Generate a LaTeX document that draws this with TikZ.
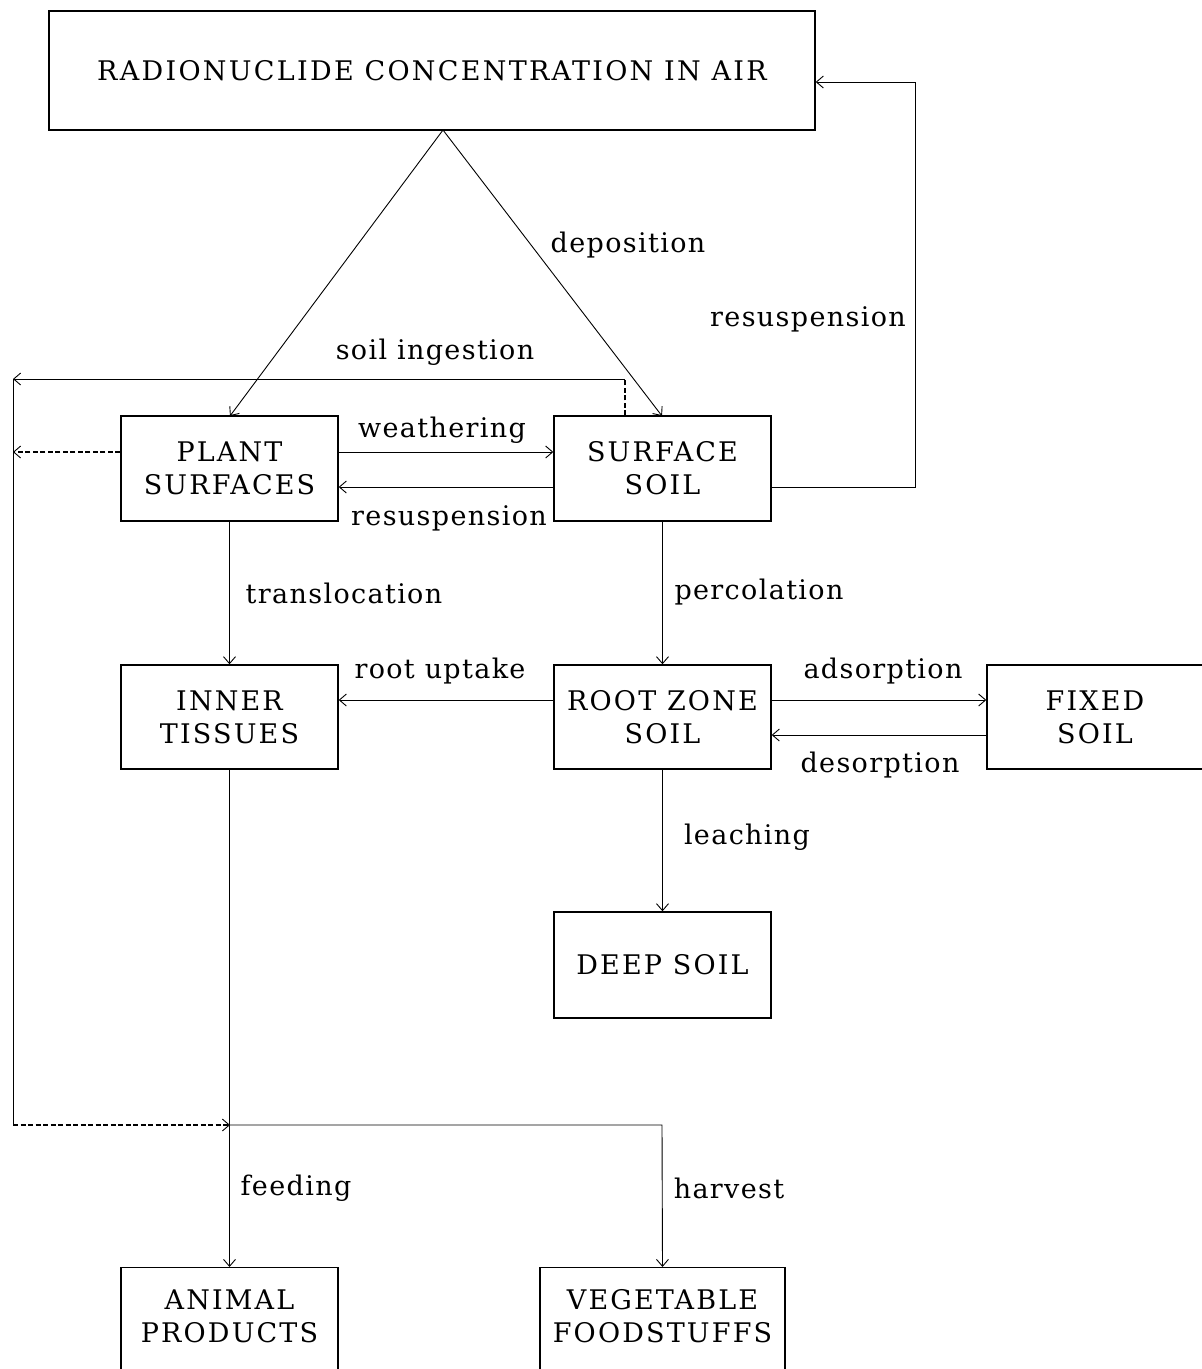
\documentclass[tikz,border=0pt]{standalone}
\usepackage{fontspec}
\setmainfont{DejaVu Serif}[LetterSpace=5]
\newfontfamily\boxfont{DejaVu Serif}[LetterSpace=8]
\newfontfamily\titlefont{DejaVu Serif}[LetterSpace=8.5]
\usetikzlibrary{arrows.meta}
\tikzset{
  box/.style={draw, line width=1.4pt, align=center, inner sep=0pt,
    font=\boxfont\fontsize{27}{33}\selectfont},
  lbl/.style={inner sep=0pt, font=\fontsize{27}{33}\selectfont},
  conn/.style={line width=0.9pt, -{Straight Barb[length=7pt,width=12pt,line width=0.9pt]}},
  plain/.style={line width=0.9pt},
  dsh/.style={line width=1.1pt, dash pattern=on 5pt off 2.5pt},
}
\begin{document}
\begin{tikzpicture}[x=1pt,y=-1pt]
\path[use as bounding box, clip] (0,0) rectangle (1202,1369);
\fill[white] (0,0) rectangle (1202,1369);
% boxes
\node[box, font=\titlefont\fontsize{27}{33}\selectfont, minimum width=766, minimum height=119] (air) at (432,70.5) {RADIONUCLIDE CONCENTRATION IN AIR};
\node[box, minimum width=217, minimum height=105] (plant) at (229.5,468.5) {PLANT\\SURFACES};
\node[box, minimum width=217, minimum height=105] (surf) at (662.5,468.5) {SURFACE\\SOIL};
\node[box, minimum width=217, minimum height=104] (inner) at (229.5,717) {INNER\\TISSUES};
\node[box, minimum width=217, minimum height=104] (root) at (662.5,717) {ROOT ZONE\\SOIL};
\node[box, minimum width=216, minimum height=104] (fixed) at (1095,717) {FIXED\\SOIL};
\node[box, minimum width=217, minimum height=106] (deep) at (662.5,965) {DEEP SOIL};
\node[box, minimum width=217, minimum height=200, anchor=north] (animal) at (229.5,1267) {};
\node[box, draw=none, anchor=north] (animaltxt) at ([yshift=-22]animal.north) {ANIMAL\\PRODUCTS};
\node[box, minimum width=245, minimum height=200, anchor=north] (veg) at (662.5,1267) {};
\node[box, draw=none, anchor=north] (vegtxt) at ([yshift=-22]veg.north) {VEGETABLE\\FOODSTUFFS};
% helper coordinates
\coordinate (apex) at (443,130);
\coordinate (rr1) at (915,487);
\coordinate (rr2) at (915,82);
\coordinate (si1) at (625,379);
\coordinate (siL) at (13,379);
\coordinate (psL) at (13,452);
\coordinate (bL) at (13,1125);
\coordinate (junc) at (230,1125);
\coordinate (jr) at (662,1125);
% deposition
\draw[conn] (apex) -- (230,416);
\draw[conn] (apex) -- (662,416);
\node[lbl] (ldep) at (628,245) {deposition};
% resuspension to air
\draw[conn] (surf.east |- rr1) -- (rr1) -- (rr2) -- (air.east |- rr2);
\node[lbl] (lres1) at (808,319) {resuspension};
% soil ingestion
\draw[dsh] (si1 |- surf.north) -- (si1);
\draw[conn] (si1) -- (siL);
\draw[plain] (siL) -- (bL);
\node[lbl] (lsi) at (435,352) {soil ingestion};
\draw[dsh, -{Straight Barb[length=7pt,width=12pt,line width=0.9pt]}] (plant.west |- psL) -- (psL);
\draw[dsh, -{Straight Barb[length=7pt,width=12pt,line width=0.9pt]}] (bL) -- (junc);
% weathering / resuspension
\draw[conn] (338,452) -- (surf.west |- 0,452);
\node[lbl] (lw) at (442,430) {weathering};
\draw[conn] (554,487) -- (plant.east |- 0,487);
\node[lbl] (lres2) at (449,518) {resuspension};
% translocation, percolation
\draw[conn] (plant.south) -- (inner.north);
\node[lbl] (ltr) at (344,593) {translocation};
\draw[conn] (surf.south) -- (root.north);
\node[lbl] (lper) at (759,592) {percolation};
% root uptake
\draw[conn] (554,700) -- (inner.east |- 0,700);
\node[lbl] (lru) at (440,671) {root uptake};
% adsorption / desorption
\draw[conn] (771,700) -- (fixed.west |- 0,700);
\node[lbl] (lads) at (883,671) {adsorption};
\draw[conn] (987,735) -- (root.east |- 0,735);
\node[lbl] (ldes) at (880,765) {desorption};
% leaching
\draw[conn] (root.south) -- (deep.north);
\node[lbl] (lle) at (747,837) {leaching};
% feeding / harvest
\draw[conn] (inner.south) -- (animal.north);
\draw[conn] (junc) -- (jr) -- (veg.north);
\node[lbl] (lfe) at (296,1188) {feeding};
\node[lbl] (lha) at (729,1188) {harvest};
\end{tikzpicture}
\end{document}
